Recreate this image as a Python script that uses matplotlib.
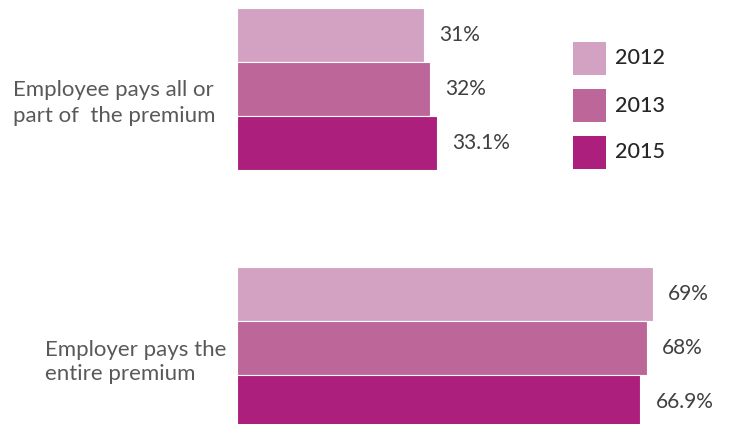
import matplotlib.pyplot as plt
from matplotlib.patches import Rectangle

plt.rcParams['font.family'] = ['Lato', 'DejaVu Sans']

categories = ["Employee pays all or\npart of  the premium", "Employer pays the\nentire premium"]
years = ["2012", "2013", "2015"]
values = {
    "2012": [31, 69],
    "2013": [32, 68],
    "2015": [33.1, 66.9],
}
labels = {
    "2012": ["31%", "69%"],
    "2013": ["32%", "68%"],
    "2015": ["33.1%", "66.9%"],
}
colors = ["#D3A2C3", "#BC6699", "#AC1F7C"]

W, H = 735, 424
fig = plt.figure(figsize=(W / 100, H / 100), dpi=100)
ax = fig.add_axes([237 / W, 0, 1 - 237 / W, 1])
ax.set_xlim(0, 498 / 6.03)
ax.set_ylim(H, 0)  # pixel-like units, top down
ax.axis("off")

bar_h = 54
group_top = [8, 267]
for g in range(len(categories)):
    for i, yr in enumerate(years):
        y = group_top[g] + i * bar_h + bar_h / 2
        v = values[yr][g]
        ax.barh(y, v, height=bar_h, color=colors[i], edgecolor="white", linewidth=0.8)
        ax.text(v + 2.5, y, labels[yr][g], va="center", ha="left",
                fontsize=15, color="#404040")

# category labels
fig.text(13 / W, 1 - 103 / H, categories[0], ha="left", va="center",
         fontsize=16, color="#595959", linespacing=1.4)
fig.text(45 / W, 1 - 362.5 / H, categories[1], ha="left", va="center",
         fontsize=16, color="#595959", linespacing=1.25)

# legend
for i, yr in enumerate(years):
    top = 42 + i * 47
    fig.add_artist(Rectangle((573 / W, 1 - (top + 33) / H), 33 / W, 33 / H,
                             transform=fig.transFigure, color=colors[i], lw=0))
    fig.text(615 / W, 1 - (top + 16.5) / H, yr, ha="left", va="center",
             fontsize=15.5, color="#262626", fontweight="medium")

fig.savefig("out.png", dpi=100)
